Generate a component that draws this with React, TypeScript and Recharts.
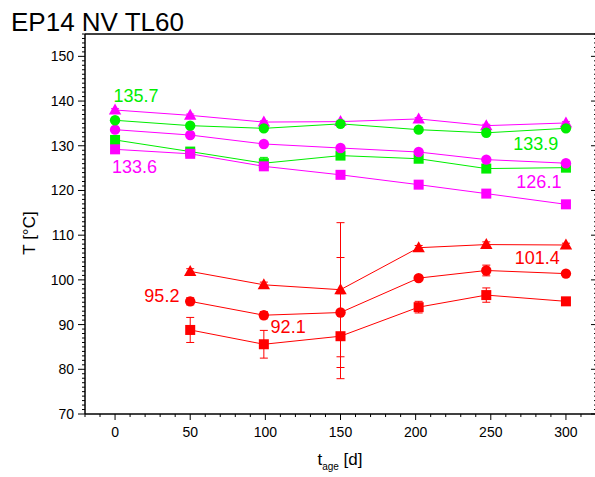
import React from "react";
import {
  ComposedChart,
  Line,
  XAxis,
  YAxis,
  ErrorBar,
  ReferenceDot,
} from "recharts";

// ageing time [d]
const days = [0, 50, 99, 150, 202, 247, 300];

// upper group
const magTri = [138.0, 136.8, 135.3, 135.4, 136.0, 134.5, 135.1];
const magTriErr = [0.3, 0.3, 0.3, 0.3, 0.3, 0.3, 0.3];
const grnCirc = [135.7, 134.5, 133.9, 134.9, 133.6, 132.9, 133.9];
const grnCircErr = [0.4, 0.4, 0.5, 0.4, 0.4, 0.4, 0.4];
const magCirc = [133.6, 132.4, 130.4, 129.5, 128.6, 126.9, 126.1];
const magCircErr = [0.3, 0.3, 0.3, 0.3, 0.3, 0.3, 0.3];
const grnSq = [131.3, 128.7, 126.1, 127.8, 127.1, 124.9, 125.1];
const grnSqErr = [0.4, 0.5, 1.3, 0.4, 0.4, 0.4, 0.4];
const magSq = [129.2, 128.2, 125.4, 123.5, 121.3, 119.3, 116.9];
const magSqErr = [0.3, 0.6, 0.3, 0.3, 0.3, 0.3, 0.3];

// lower group (no value at day 0)
const redTri = [null, 101.9, 98.9, 97.8, 107.2, 107.9, 107.8];
const redTriErr = [null, 0.6, 0.6, 15.0, 0.5, 0.6, 0.4];
const redCirc = [null, 95.2, 92.1, 92.7, 100.4, 102.1, 101.4];
const redCircErr = [null, 0.8, 0.8, 12.3, 0.5, 1.2, 0.4];
const redSq = [null, 88.8, 85.6, 87.4, 93.9, 96.6, 95.2];
const redSqErr = [null, 2.8, 3.1, 9.5, 1.3, 1.6, 0.5];

// value annotations: text, day, temperature
const noteText = ["135.7", "133.6", "133.9", "126.1", "95.2", "92.1", "101.4"];
const noteX = [-1, -2, 265, 267, 19.5, 103.5, 266];
const noteY = [141.2, 125.2, 130.4, 121.8, 96.5, 89.4, 104.9];
const noteColor = ["#00ee00", "#ff00ff", "#00ee00", "#ff00ff", "#ff0000", "#ff0000", "#ff0000"];

const xTicks = Array.from({ length: 35 }, (_, i) => -20 + i * 10);
const yTicks = Array.from({ length: 86 }, (_, i) => 70 + i);

const FONT = "'Liberation Sans', Arial, Helvetica, sans-serif";

const rows = (vals: (number | null)[], errs: (number | null)[]) =>
  days
    .map((d, i) => ({ d, v: vals[i], e: errs[i] }))
    .filter((r) => r.v != null);

const series = [
  { name: "grnSq", vals: grnSq, errs: grnSqErr, color: "#00ee00", shape: "square" },
  { name: "magSq", vals: magSq, errs: magSqErr, color: "#ff00ff", shape: "square" },
  { name: "magCirc", vals: magCirc, errs: magCircErr, color: "#ff00ff", shape: "circle" },
  { name: "magTri", vals: magTri, errs: magTriErr, color: "#ff00ff", shape: "triangle" },
  { name: "grnCirc", vals: grnCirc, errs: grnCircErr, color: "#00ee00", shape: "circle" },
  { name: "redSq", vals: redSq, errs: redSqErr, color: "#ff0000", shape: "square" },
  { name: "redCirc", vals: redCirc, errs: redCircErr, color: "#ff0000", shape: "circle" },
  { name: "redTri", vals: redTri, errs: redTriErr, color: "#ff0000", shape: "triangle" },
];

const makeDot = (name: string, shape: string, color: string) => (props: any) => {
  const { cx, cy, index } = props;
  const k = `${name}-${index}`;
  if (!Number.isFinite(cx) || !Number.isFinite(cy)) return <g key={k} />;
  if (shape === "circle") return <circle key={k} cx={cx} cy={cy} r={5.2} fill={color} />;
  if (shape === "square")
    return <rect key={k} x={cx - 5} y={cy - 5} width={10} height={10} fill={color} />;
  return (
    <polygon
      key={k}
      points={`${cx},${cy - 6.5} ${cx - 6.2},${cy + 4.5} ${cx + 6.2},${cy + 4.5}`}
      fill={color}
    />
  );
};

const BottomTick = (p: any) => {
  const v = p.payload.value;
  const major = v % 50 === 0;
  return (
    <g>
      <line x1={p.x} x2={p.x} y1={p.y} y2={p.y + (major ? 6 : 3)} stroke="#000" />
      {major && v >= 0 && v <= 300 && (
        <text x={p.x} y={p.y + 23} textAnchor="middle" fontSize={14} fontFamily={FONT} fill="#000">
          {v}
        </text>
      )}
    </g>
  );
};

const TopTick = (p: any) => {
  const major = p.payload.value % 50 === 0;
  return <line x1={p.x} x2={p.x} y1={p.y} y2={p.y + (major ? 6 : 3)} stroke="#000" />;
};

const LeftTick = (p: any) => {
  const v = p.payload.value;
  const major = v % 10 === 0;
  return (
    <g>
      <line x1={p.x - (major ? 7 : 3)} x2={p.x} y1={p.y} y2={p.y} stroke="#000" />
      {major && v <= 150 && (
        <text x={p.x - 11} y={p.y + 5} textAnchor="end" fontSize={14} fontFamily={FONT} fill="#000">
          {v}
        </text>
      )}
    </g>
  );
};

const RightTick = (p: any) => {
  const major = p.payload.value % 10 === 0;
  return <line x1={p.x - (major ? 5 : 2)} x2={p.x} y1={p.y} y2={p.y} stroke="#000" />;
};

export default function App() {
  return (
    <div
      style={{
        position: "absolute",
        left: 0,
        top: 0,
        width: 595,
        height: 477,
        overflow: "hidden",
        background: "#fff",
      }}
    >
      <ComposedChart width={597} height={477} margin={{ top: 33, right: 0, bottom: 0, left: 0 }}>
        <XAxis
          dataKey="d"
          type="number"
          domain={[-20, 320]}
          ticks={xTicks}
          interval={0}
          height={63}
          tickSize={0}
          tickMargin={0}
          tick={BottomTick}
          axisLine={{ stroke: "#000", strokeWidth: 1.5 }}
          allowDataOverflow
        />
        <XAxis
          xAxisId="top"
          orientation="top"
          type="number"
          domain={[-20, 320]}
          ticks={xTicks}
          interval={0}
          height={1}
          tickSize={0}
          tickMargin={0}
          tick={TopTick}
          axisLine={{ stroke: "#000", strokeWidth: 1.5 }}
          allowDataOverflow
        />
        <YAxis
          type="number"
          domain={[70, 155]}
          ticks={yTicks}
          interval={0}
          width={85}
          tickSize={0}
          tickMargin={0}
          tick={LeftTick}
          axisLine={{ stroke: "#000", strokeWidth: 1.5 }}
          allowDataOverflow
        />
        <YAxis
          yAxisId="right"
          orientation="right"
          type="number"
          domain={[70, 155]}
          ticks={yTicks}
          interval={0}
          width={1}
          tickSize={0}
          tickMargin={0}
          tick={RightTick}
          axisLine={{ stroke: "#000", strokeWidth: 1.5 }}
          allowDataOverflow
        />
        {series.map((s) => (
          <Line
            key={s.name}
            data={rows(s.vals, s.errs)}
            dataKey="v"
            type="linear"
            stroke={s.color}
            strokeWidth={1}
            dot={makeDot(s.name, s.shape, s.color)}
            activeDot={false}
            isAnimationActive={false}
          >
            <ErrorBar dataKey="e" direction="y" width={4} stroke={s.color} strokeWidth={1} />
          </Line>
        ))}
        {noteText.map((t, i) => (
          <ReferenceDot
            key={t}
            x={noteX[i]}
            y={noteY[i]}
            r={0}
            fill="none"
            stroke="none"
            ifOverflow="visible"
            label={{
              content: (p: any) => (
                <text
                  x={p.viewBox.x}
                  y={p.viewBox.y}
                  dominantBaseline="central"
                  fontSize={18}
                  fontFamily={FONT}
                  fill={noteColor[i]}
                >
                  {t}
                </text>
              ),
            }}
          />
        ))}
      </ComposedChart>
      <svg
        width={595}
        height={477}
        style={{ position: "absolute", left: 0, top: 0, pointerEvents: "none" }}
      >
        <text x={11} y={31} fontSize={26} fontFamily={FONT} fill="#000">
          EP14 NV TL60
        </text>
        <text
          x={29}
          y={233}
          transform="rotate(-90 29 233)"
          textAnchor="middle"
          dominantBaseline="central"
          fontSize={17}
          fontFamily={FONT}
          fill="#000"
        >
          T [°C]
        </text>
        <text x={340} y={465} textAnchor="middle" fontSize={17} fontFamily={FONT} fill="#000">
          <tspan>t</tspan>
          <tspan fontSize={10} dy={5}>age</tspan>
          <tspan dy={-5}> [d]</tspan>
        </text>
      </svg>
    </div>
  );
}
